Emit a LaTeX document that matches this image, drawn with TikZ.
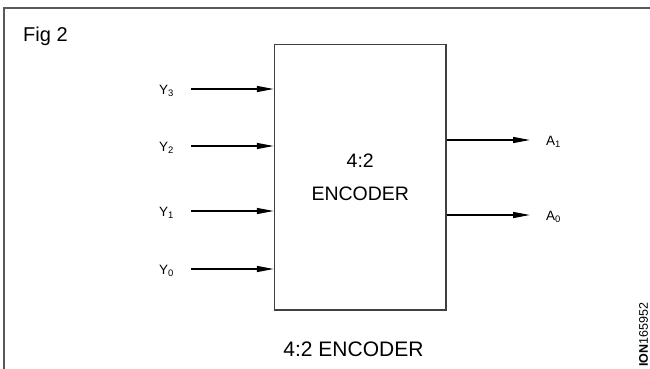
\documentclass[tikz,border=0pt]{standalone}
\usepackage{fontspec}
\setmainfont{Liberation Sans}
\usetikzlibrary{arrows.meta,positioning}
\tikzset{
  sig/.style={line width=1.4pt, -{Triangle[length=17pt,width=6pt]}},
  lbl/.style={anchor=base west, inner sep=0pt, font=\fontsize{13.5}{16}\selectfont},
}
\begin{document}
\begin{tikzpicture}[x=1pt,y=-1pt]
\useasboundingbox (0,0) rectangle (650,369);
\draw[black!65, line width=1.5pt] (4,369) -- (4,8) -- (650,8);
\node[anchor=base west, inner sep=0pt, font=\fontsize{20}{24}\selectfont] (fig) at (23,41.7) {Fig 2};
% the encoder block
\node[draw=black!75, line width=1.5pt, minimum width=171.5pt, minimum height=265.5pt, align=center, font=\fontsize{19.5}{24}\selectfont] (enc) at (360.25,177.25) {4:2\\[9pt]ENCODER};
% inputs
\node[lbl] (y3) at (159,94) {Y\textsubscript{3}};
\node[lbl] (y2) at (159,151) {Y\textsubscript{2}};
\node[lbl] (y1) at (159,216) {Y\textsubscript{1}};
\node[lbl] (y0) at (159,274) {Y\textsubscript{0}};
\coordinate (y3s) at (191,89);
\coordinate (y2s) at (191,146);
\coordinate (y1s) at (191,211);
\coordinate (y0s) at (191,269);
\draw[sig] (y3s) -- (y3s -| enc.west);
\draw[sig] (y2s) -- (y2s -| enc.west);
\draw[sig] (y1s) -- (y1s -| enc.west);
\draw[sig] (y0s) -- (y0s -| enc.west);
% outputs
\coordinate (a1e) at (530,140);
\coordinate (a0e) at (530,215);
\draw[sig] (enc.east |- a1e) -- (a1e);
\draw[sig] (enc.east |- a0e) -- (a0e);
\node[lbl] (a1) at (546,145.7) {A\textsubscript{1}};
\node[lbl] (a0) at (546,220.5) {A\textsubscript{0}};
% caption
\node[inner sep=0pt, font=\fontsize{21}{25}\selectfont] (cap) at (353.5,349) {4:2 ENCODER};
\node[rotate=90, inner sep=0pt, font=\fontsize{12.5}{15}\selectfont] (id) at (643.5,335) {\textbf{ION}165952};
\end{tikzpicture}
\end{document}
